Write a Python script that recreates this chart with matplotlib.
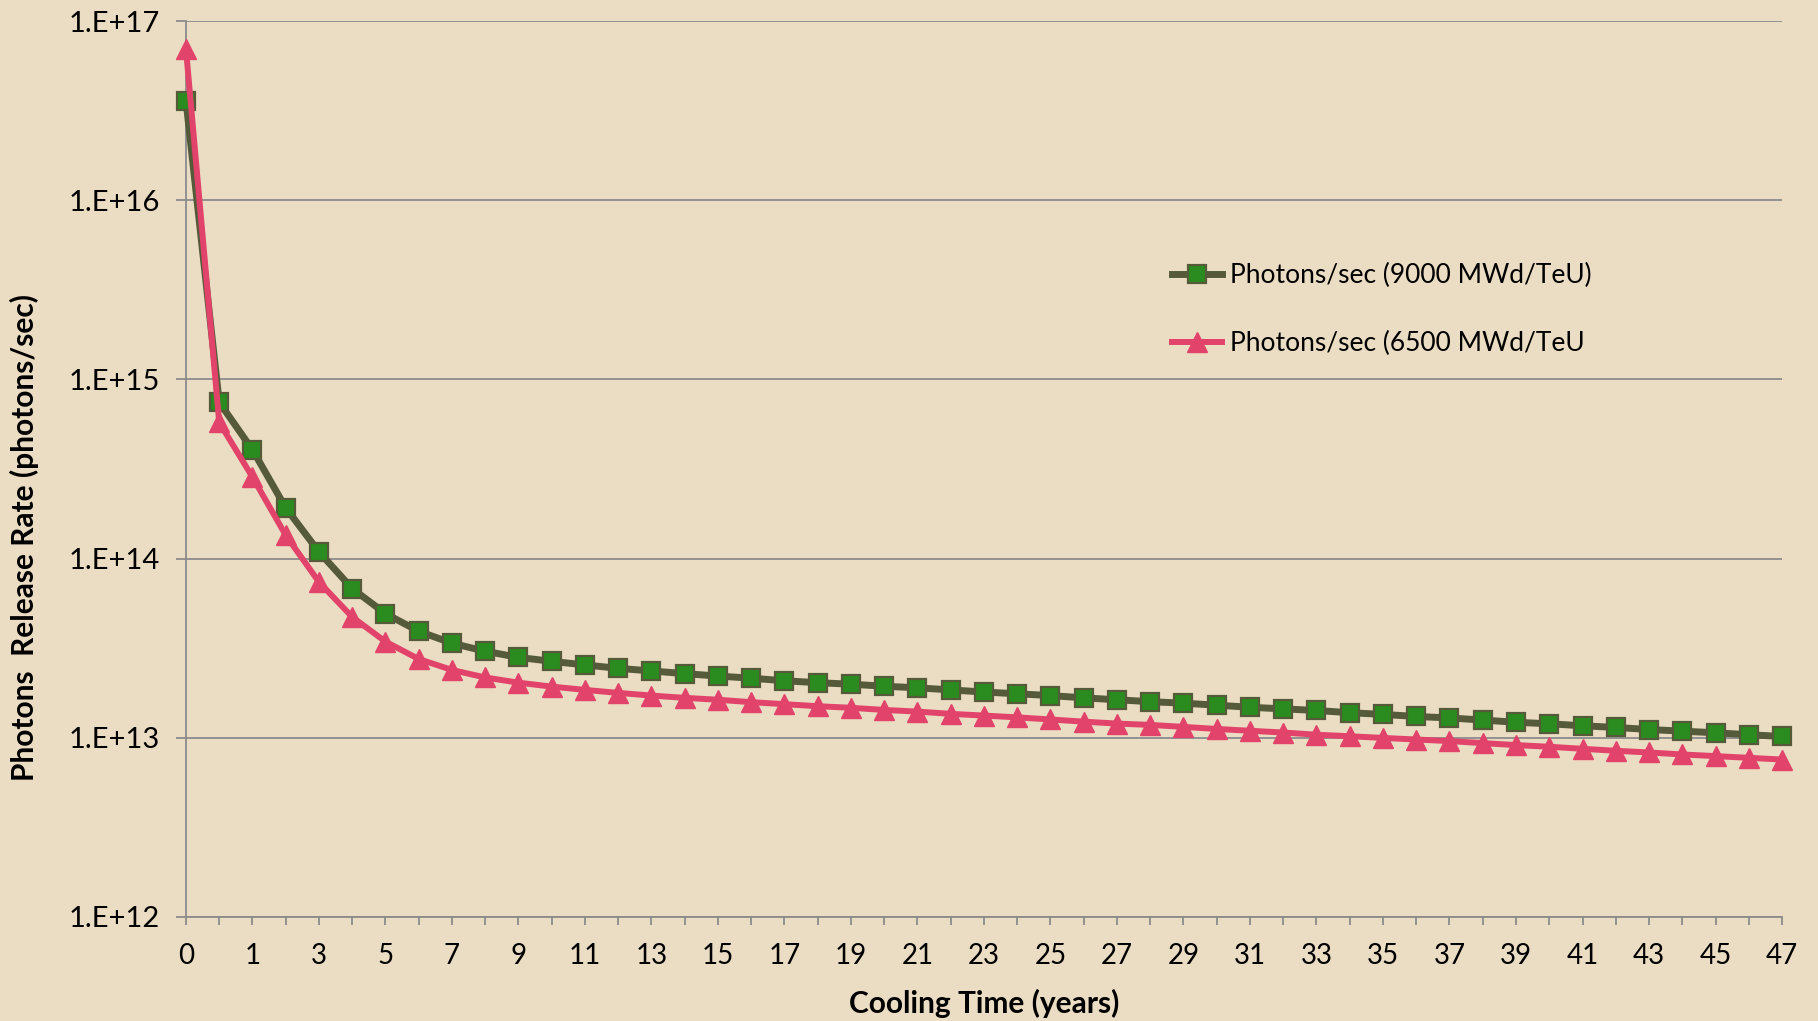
import math
import matplotlib.pyplot as plt
from matplotlib.ticker import FixedLocator, FuncFormatter

# cooling time categories (years) - second point is half a year
cooling_time = ['0', '0.5'] + [str(i) for i in range(1, 48)]

photons_9000 = [3.6e16, 7.45e14, 4.05e14, 1.92e14, 1.09e14, 6.8e13, 4.93e13, 3.93e13,
                3.37e13, 3.04e13, 2.81e13, 2.67e13, 2.55e13, 2.44e13, 2.36e13, 2.28e13,
                2.21e13, 2.15e13, 2.08e13, 2.03e13, 1.99e13, 1.94e13, 1.90e13, 1.85e13,
                1.80e13, 1.76e13, 1.72e13, 1.67e13, 1.63e13, 1.59e13, 1.56e13, 1.52e13,
                1.48e13, 1.45e13, 1.42e13, 1.38e13, 1.35e13, 1.315e13, 1.29e13, 1.256e13,
                1.22e13, 1.197e13, 1.167e13, 1.142e13, 1.112e13, 1.089e13, 1.066e13,
                1.04e13, 1.017e13]

photons_6500 = [6.97e16, 5.75e14, 2.85e14, 1.35e14, 7.4e13, 4.72e13, 3.44e13, 2.75e13,
                2.39e13, 2.17e13, 2.03e13, 1.93e13, 1.85e13, 1.78e13, 1.72e13, 1.67e13,
                1.63e13, 1.58e13, 1.54e13, 1.50e13, 1.47e13, 1.43e13, 1.40e13, 1.36e13,
                1.33e13, 1.30e13, 1.265e13, 1.23e13, 1.20e13, 1.18e13, 1.15e13, 1.12e13,
                1.094e13, 1.07e13, 1.04e13, 1.02e13, 9.98e12, 9.78e12, 9.58e12, 9.34e12,
                9.10e12, 8.91e12, 8.68e12, 8.46e12, 8.28e12, 8.07e12, 7.90e12, 7.73e12,
                7.56e12]

labels = ['Photons/sec (9000 MWd/TeU)', 'Photons/sec (6500 MWd/TeU']

bg = '#EBDDC3'
grid_col = '#8C8C8C'

plt.rcParams['font.family'] = ['Lato', 'DejaVu Sans']

fig = plt.figure(figsize=(18.18, 10.21), dpi=100, facecolor=bg)
ax = fig.add_axes([0.1023, 0.1019, 0.8779, 0.8775], facecolor=bg)

x = list(range(len(cooling_time)))

ax.plot(x, photons_9000, color='#555B3A', lw=5, marker='s', markersize=13,
        markerfacecolor='#2A8C1E', markeredgecolor='#555B3A', markeredgewidth=1.6,
        label=labels[0], clip_on=False, zorder=3)
ax.plot(x, photons_6500, color='#E2436A', lw=4.3, marker='^', markersize=14,
        markerfacecolor='#E2436A', markeredgecolor='#E2436A',
        label=labels[1], clip_on=False, zorder=4)

ax.set_yscale('log')
ax.set_ylim(1e12, 1e17)
ax.set_xlim(0, len(cooling_time) - 1)

decades = [1e12, 1e13, 1e14, 1e15, 1e16, 1e17]
ax.yaxis.set_major_locator(FixedLocator(decades))
ax.yaxis.set_minor_locator(FixedLocator([]))
ax.yaxis.set_major_formatter(FuncFormatter(lambda v, p: '1.E+%d' % round(math.log10(v))))

ax.set_xticks(x)
ax.set_xticklabels([c if i % 2 == 0 else '' for i, c in enumerate(cooling_time)])

ax.grid(axis='y', color=grid_col, lw=1.3)
ax.set_axisbelow(True)
for s in ['top', 'right']:
    ax.spines[s].set_visible(False)
for s in ['left', 'bottom']:
    ax.spines[s].set_color(grid_col)
    ax.spines[s].set_linewidth(1.3)

ax.tick_params(axis='y', length=7, width=1.3, color=grid_col, labelsize=21, pad=12)
ax.tick_params(axis='x', length=6, width=1.3, color=grid_col, labelsize=20, pad=13)

ax.set_ylabel('Photons  Release Rate (photons/sec)', fontsize=21.5, fontweight='bold', va='center')
ax.yaxis.set_label_coords(-0.1009, 0.424)
ax.set_xlabel('Cooling Time (years)', fontsize=21.5, fontweight='bold', va='center')
ax.xaxis.set_label_coords(0.5, -0.097)

ax.legend(loc='upper left', bbox_to_anchor=(0.603, 0.756), frameon=False, fontsize=19,
          handlelength=1.9, handletextpad=0.3, labelspacing=1.6)

fig.savefig('out.png', dpi=100, facecolor=bg)
